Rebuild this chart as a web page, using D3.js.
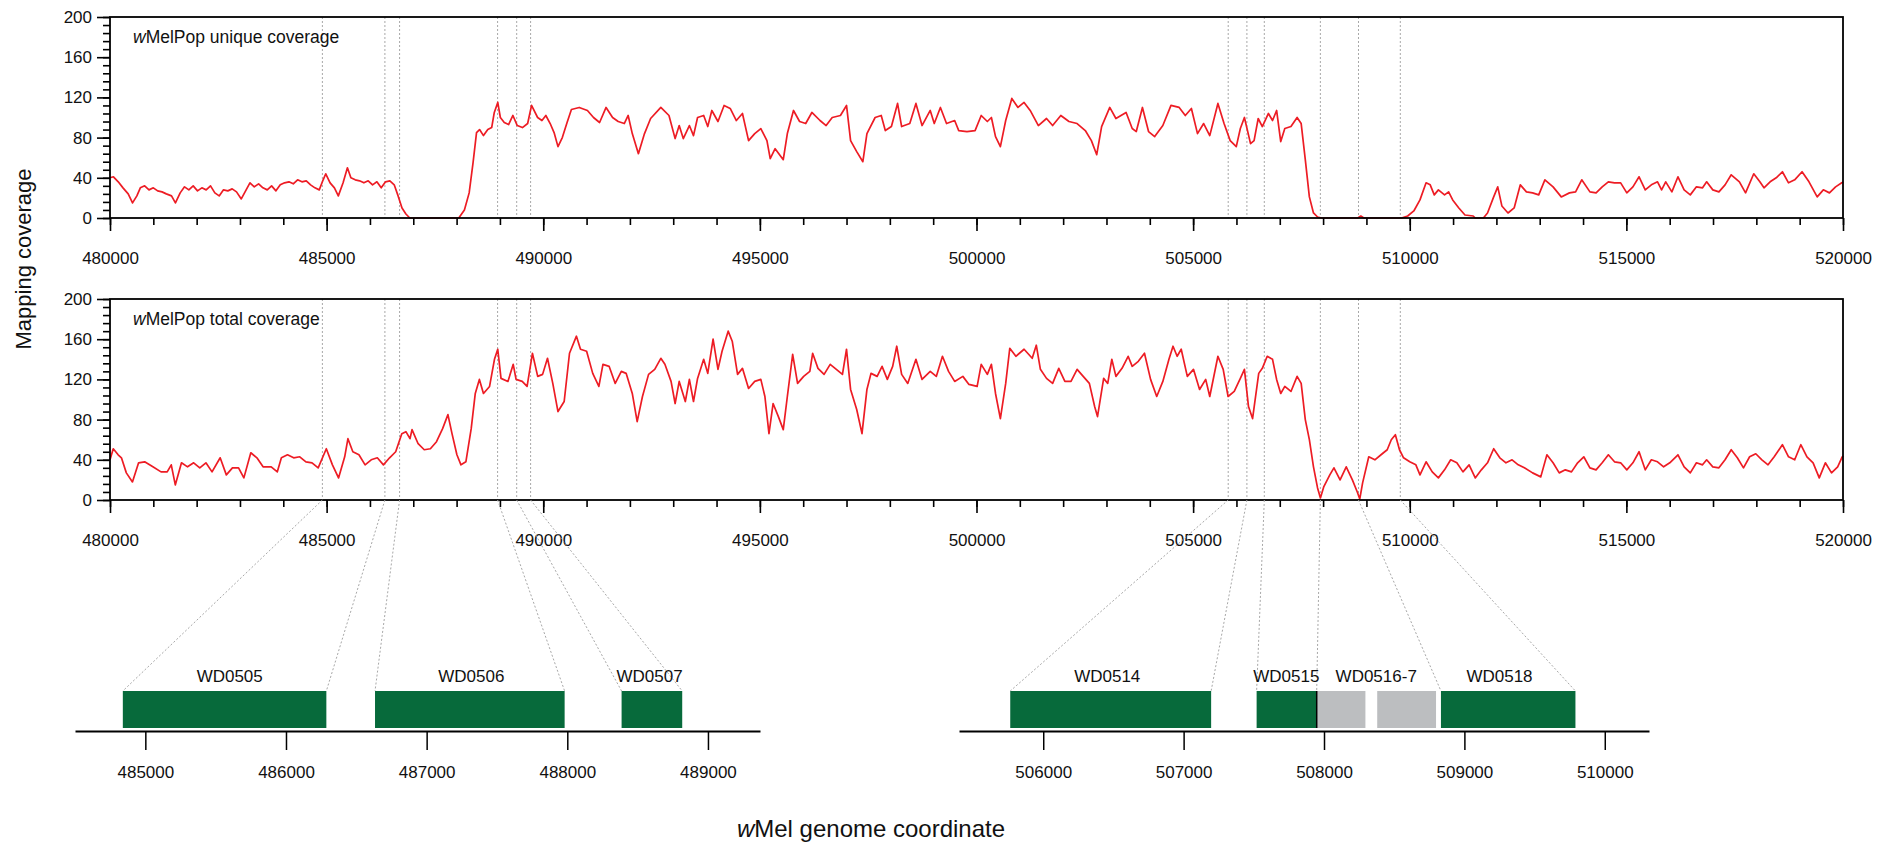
<!DOCTYPE html>
<html>
<head>
<meta charset="utf-8">
<script src="https://cdn.jsdelivr.net/npm/d3@7"></script>
<style>
  body { margin: 0; background: #fff; }
  svg text { font-family: "Liberation Sans", Arial, Helvetica, sans-serif; fill: #111; }
</style>
</head>
<body>
<div id="chart"></div>
<script>
// ----------- data --------------------------------

// wMelPop unique coverage: [genome position, coverage]
const uniqueCoverage = [
  [480000,40],[480080,41],[480190,36],[480300,30],[480420,24],[480520,15],[480620,22],[480700,30],
  [480800,32],[480900,28],[481000,30],[481100,27],[481200,26],[481300,24],[481420,22],[481510,15],
  [481620,25],[481720,31],[481820,28],[481920,32],[482020,27],[482120,30],[482220,28],[482320,32],
  [482420,25],[482520,22],[482620,28],[482720,27],[482820,29],[482920,26],[483030,19],[483130,27],
  [483230,35],[483330,31],[483430,34],[483530,30],[483630,28],[483730,32],[483830,27],[483930,33],
  [484030,35],[484130,36],[484230,34],[484330,38],[484430,36],[484530,37],[484630,33],[484730,30],
  [484830,28],[484920,38],[484980,44],[485080,35],[485180,30],[485270,22],[485380,35],[485480,50],
  [485560,40],[485660,38],[485760,37],[485860,35],[485960,37],[486060,33],[486160,36],[486260,30],
  [486360,36],[486460,37],[486560,33],[486650,22],[486740,10],[486830,4],[486920,0],[488050,0],
  [488180,8],[488290,25],[488380,55],[488460,85],[488530,88],[488620,82],[488720,88],[488810,90],
  [488870,105],[488950,115],[489010,100],[489100,95],[489200,93],[489300,102],[489400,92],[489520,90],
  [489640,94],[489730,112],[489870,100],[489970,97],[490060,102],[490160,94],[490250,85],[490340,71],
  [490440,80],[490550,95],[490650,108],[490830,110],[491020,107],[491160,100],[491300,95],[491450,110],
  [491600,100],[491730,96],[491870,94],[491960,102],[492055,84],[492196,64],[492337,84],[492478,99],
  [492714,110],[492902,102],[493044,79],[493138,92],[493232,79],[493373,92],[493468,82],[493562,100],
  [493703,102],[493797,91],[493891,107],[494033,96],[494174,112],[494315,109],[494457,97],[494598,104],
  [494739,77],[494881,84],[495022,89],[495163,77],[495239,59],[495352,69],[495540,58],[495634,84],
  [495776,107],[495917,96],[496058,94],[496200,105],[496388,97],[496529,92],[496670,100],[496859,102],
  [497000,112],[497094,77],[497235,66],[497377,56],[497471,84],[497660,100],[497801,102],[497895,87],
  [498036,91],[498178,114],[498272,91],[498460,94],[498602,114],[498743,92],[498932,107],[499025,94],
  [499167,110],[499308,94],[499496,97],[499590,87],[499779,86],[499967,87],[500109,102],[500250,96],
  [500344,100],[500439,81],[500551,71],[500674,97],[500815,119],[500957,110],[501098,115],[501239,107],
  [501428,92],[501616,99],[501757,92],[501946,102],[502134,96],[502322,94],[502511,87],[502652,77],
  [502775,63],[502888,91],[503076,110],[503218,99],[503453,105],[503594,89],[503688,86],[503830,110],
  [503971,86],[504113,81],[504301,92],[504489,112],[504678,110],[504819,102],[504960,109],[505101,84],
  [505243,94],[505384,82],[505572,114],[505714,94],[505855,77],[505996,71],[506090,89],[506184,100],
  [506325,74],[506407,77],[506502,99],[506597,91],[506738,104],[506833,97],[506927,107],[507022,76],
  [507116,89],[507258,91],[507400,100],[507494,94],[507589,58],[507683,21],[507778,5],[507872,1],
  [507967,0],[508800,0],[508870,2],[508940,0],[509810,0],[509952,2],[510094,7],[510236,18],
  [510377,35],[510472,33],[510566,23],[510661,28],[510803,23],[510897,26],[510991,18],[511133,10],
  [511275,3],[511464,2],[511511,0],[511700,0],[511795,5],[511937,21],[512031,31],[512126,12],
  [512268,5],[512410,10],[512552,33],[512693,26],[512835,25],[512977,23],[513119,38],[513308,31],
  [513497,21],[513686,25],[513828,26],[513970,38],[514159,26],[514301,25],[514442,31],[514584,36],
  [514726,35],[514868,35],[515010,25],[515151,31],[515293,41],[515435,28],[515577,33],[515719,36],
  [515813,28],[515908,36],[516050,26],[516191,41],[516333,28],[516475,23],[516617,31],[516759,30],
  [516853,36],[516995,28],[517136,26],[517278,33],[517420,43],[517609,36],[517751,25],[517940,44],
  [518081,36],[518176,30],[518318,36],[518459,40],[518601,46],[518743,35],[518885,38],[519055,46],
  [519215,36],[519404,21],[519546,28],[519687,25],[519829,31],[519971,35],[520000,36]
];

// wMelPop total coverage: [genome position, coverage]
const totalCoverage = [
  [480000,40],[480075,51],[480188,45],[480264,42],[480377,27],[480518,18],[480660,37],[480800,38],
  [480990,33],[481178,28],[481320,28],[481414,35],[481507,15],[481650,37],[481790,33],[481931,37],
  [482072,32],[482214,37],[482355,28],[482543,42],[482685,25],[482826,32],[482967,32],[483090,22],
  [483250,47],[483391,42],[483533,33],[483721,33],[483862,28],[483956,42],[484097,45],[484239,42],
  [484380,43],[484522,38],[484663,37],[484805,32],[484993,51],[485134,35],[485275,22],[485417,43],
  [485492,61],[485605,48],[485746,45],[485888,35],[486029,40],[486170,42],[486311,35],[486453,42],
  [486594,48],[486735,66],[486830,68],[486924,61],[486971,70],[487112,56],[487253,50],[487395,51],
  [487536,58],[487677,71],[487800,85],[487894,66],[488007,45],[488101,35],[488214,38],[488337,71],
  [488431,106],[488526,120],[488620,106],[488761,113],[488874,140],[488950,150],[489025,121],[489185,118],
  [489307,135],[489373,120],[489514,118],[489627,113],[489750,146],[489872,123],[489985,125],[490098,141],
  [490220,116],[490340,88],[490483,98],[490606,146],[490766,163],[490860,150],[491001,148],[491142,126],
  [491284,113],[491378,135],[491520,133],[491661,116],[491802,128],[491913,126],[492055,106],[492168,78],
  [492290,103],[492431,125],[492573,130],[492714,141],[492808,135],[492950,118],[493044,96],[493138,118],
  [493279,98],[493373,120],[493468,98],[493562,121],[493703,140],[493797,126],[493920,160],[494033,130],
  [494127,148],[494268,168],[494362,158],[494485,125],[494598,131],[494739,111],[494881,118],[495022,120],
  [495116,103],[495210,66],[495305,96],[495427,83],[495540,70],[495634,103],[495757,145],[495870,116],
  [496011,123],[496153,128],[496218,146],[496341,131],[496482,125],[496623,135],[496765,130],[496906,125],
  [497000,150],[497094,110],[497235,90],[497357,66],[497471,110],[497565,126],[497707,123],[497820,133],
  [497942,120],[498065,133],[498159,153],[498272,125],[498413,116],[498602,140],[498743,120],[498932,128],
  [499072,123],[499214,143],[499355,128],[499496,118],[499685,123],[499826,115],[500015,113],[500109,135],
  [500250,125],[500344,135],[500439,106],[500551,81],[500674,116],[500768,151],[500909,143],[501098,150],
  [501286,141],[501380,154],[501475,130],[501616,121],[501757,116],[501899,131],[502040,118],[502181,118],
  [502322,130],[502463,123],[502605,116],[502727,93],[502793,83],[502935,121],[503029,116],[503123,140],
  [503218,123],[503359,131],[503500,143],[503594,133],[503735,138],[503877,146],[504018,120],[504160,103],
  [504301,118],[504442,140],[504536,153],[504631,143],[504725,150],[504866,123],[505008,130],[505149,110],
  [505290,120],[505384,103],[505572,143],[505694,130],[505807,103],[505949,108],[506090,121],[506184,130],
  [506278,93],[506372,81],[506514,126],[506597,131],[506710,143],[506833,140],[506927,120],[507022,106],
  [507116,113],[507258,108],[507400,123],[507494,116],[507589,80],[507683,60],[507778,33],[507872,12],
  [507938,2],[508014,13],[508155,25],[508250,32],[508392,20],[508534,33],[508676,20],[508789,8],
  [508846,1],[508912,17],[509054,43],[509195,40],[509337,45],[509480,50],[509574,60],[509668,65],
  [509763,50],[509857,42],[510000,38],[510141,35],[510236,25],[510377,38],[510519,28],[510661,22],
  [510803,30],[510945,40],[511087,37],[511228,28],[511370,35],[511512,22],[511653,30],[511795,37],
  [511937,51],[512079,42],[512221,37],[512362,40],[512504,35],[512646,32],[512835,27],[513024,23],
  [513166,45],[513308,37],[513450,27],[513591,30],[513733,28],[513875,37],[514017,43],[514158,32],
  [514300,30],[514442,37],[514584,45],[514726,38],[514868,37],[515010,30],[515151,37],[515293,48],
  [515435,30],[515577,40],[515719,38],[515860,33],[516002,37],[516191,45],[516333,33],[516475,27],
  [516617,37],[516758,35],[516853,40],[516995,33],[517136,32],[517278,40],[517420,50],[517561,42],
  [517703,32],[517845,43],[517987,46],[518128,40],[518270,35],[518412,43],[518601,55],[518743,43],
  [518885,40],[519026,55],[519168,43],[519310,37],[519452,22],[519593,37],[519735,27],[519877,33],
  [519971,42],[520000,44]
];

const coverageTicks = [480000, 485000, 490000, 495000, 500000, 505000, 510000, 515000, 520000];
const coverageYTicks = [0, 40, 80, 120, 160, 200];
const panelLabels = ["unique coverage", "total coverage"];

// genes shown in the two zoomed tracks: [start, end, kind]
const geneBoxes = [
  [484840, 486287, "gene"], [486633, 487981, "gene"], [488386, 488817, "gene"],
  [505765, 507196, "gene"], [507520, 507948, "gene"], [507948, 508295, "other"],
  [508379, 508798, "other"], [508833, 509791, "gene"]
];
const geneNames = ["WD0505", "WD0506", "WD0507", "WD0514", "WD0515", "WD0516-7", "WD0518"];
const geneNamePos = [485600, 487318, 488585, 506456, 507732, 508372, 509250];
const geneBreaks = [507948];
const leftGeneTicks = [485000, 486000, 487000, 488000, 489000];
const rightGeneTicks = [506000, 507000, 508000, 509000, 510000];

// dotted connectors: coverage-axis position -> gene-track position
const connectorCov  = [484902, 486345, 486684, 488946, 489387, 489708, 505810, 506241, 506643, 507937, 508817, 509782];
const connectorGene = [484840, 486287, 486633, 487981, 488386, 488817, 505765, 507196, 507520, 507948, 508833, 509791];

// ----------- layout ------------
const width = 1892, height = 843;
const panelH = 201;
const panelTops = [17, 299];
const geneTop = 691, geneH = 37, geneAxisY = 731;
const red = "#ed1c24", green = "#076a3b", grey = "#bcbec0", dot = "#a8a8a8";

const svg = d3.select("#chart").append("svg")
  .attr("width", width)
  .attr("height", height);

const x = d3.scaleLinear().domain([480000, 520000]).range([110, 1843]);

const geneX = [
  d3.scaleLinear().domain([484500, 489370]).range([75, 760]),
  d3.scaleLinear().domain([505400, 510315]).range([959, 1649])
];
const sideOf = v => (v < 495000 ? 0 : 1);

const line = d3.line()
  .x(d => x(d[0]));

[uniqueCoverage, totalCoverage].forEach((data, i) => {
  const top = panelTops[i];
  const y = d3.scaleLinear().domain([0, 200]).range([top + panelH, top]);
  const g = svg.append("g");

  // dotted guides
  g.selectAll("line.guide")
    .data(connectorCov)
    .join("line")
    .attr("x1", d => x(d)).attr("x2", d => x(d))
    .attr("y1", top).attr("y2", top + panelH)
    .attr("stroke", dot).attr("stroke-width", 1).attr("stroke-dasharray", "2,2");

  g.append("path")
    .datum(data)
    .attr("d", line.y(d => y(d[1])))
    .attr("fill", "none")
    .attr("stroke", red)
    .attr("stroke-width", 1.7)
    .attr("stroke-linejoin", "round");

  // minor ticks
  g.append("g")
    .attr("transform", `translate(110,0)`)
    .call(d3.axisLeft(y).tickValues(d3.range(0, 201, 8)).tickSize(7).tickFormat(""))
    .call(a => a.select(".domain").remove());
  g.append("g")
    .attr("transform", `translate(0,${top + panelH})`)
    .call(d3.axisBottom(x).tickValues(d3.range(480000, 520001, 1000)).tickSize(7).tickFormat(""))
    .call(a => a.select(".domain").remove());

  const ya = g.append("g")
    .attr("transform", `translate(110,0)`)
    .call(d3.axisLeft(y).tickValues(coverageYTicks).tickSize(13).tickPadding(5));
  ya.select(".domain").remove();
  ya.selectAll("text").attr("font-size", 17).attr("font-family", null);

  const xa = g.append("g")
    .attr("transform", `translate(0,${top + panelH})`)
    .call(d3.axisBottom(x).tickValues(coverageTicks).tickSize(13).tickPadding(21).tickFormat(d3.format("d")));
  xa.select(".domain").remove();
  xa.selectAll("text").attr("font-size", 17).attr("font-family", null);

  g.selectAll(".tick line").attr("stroke", "#000").attr("stroke-width", 1.6);

  g.append("rect")
    .attr("x", 110).attr("y", top)
    .attr("width", 1733).attr("height", panelH)
    .attr("fill", "none").attr("stroke", "#000").attr("stroke-width", 1.8);

  const lab = g.append("text")
    .attr("x", 133).attr("y", top + 26)
    .attr("font-size", 17.5);
  lab.append("tspan").attr("font-style", "italic").text("w");
  lab.append("tspan").text("MelPop " + panelLabels[i]);
});

// diagonal connectors down to the gene tracks
svg.selectAll("line.conn")
  .data(connectorCov)
  .join("line")
  .attr("x1", d => x(d))
  .attr("y1", panelTops[1] + panelH)
  .attr("x2", (d, i) => geneX[sideOf(connectorGene[i])](connectorGene[i]))
  .attr("y2", geneTop)
  .attr("stroke", dot).attr("stroke-width", 1).attr("stroke-dasharray", "2,2");

// gene tracks
[leftGeneTicks, rightGeneTicks].forEach((ticks, s) => {
  const gx = geneX[s];
  const a = svg.append("g")
    .attr("transform", `translate(0,${geneAxisY})`)
    .call(d3.axisBottom(gx).tickValues(ticks).tickSize(19).tickPadding(16).tickSizeOuter(0).tickFormat(d3.format("d")));
  a.select(".domain").attr("stroke-width", 2);
  a.selectAll(".tick line").attr("stroke-width", 1.5);
  a.selectAll("text").attr("font-size", 17).attr("font-family", null);
});

svg.selectAll("rect.gene")
  .data(geneBoxes)
  .join("rect")
  .attr("x", d => geneX[sideOf(d[0])](d[0]))
  .attr("width", d => geneX[sideOf(d[0])](d[1]) - geneX[sideOf(d[0])](d[0]))
  .attr("y", geneTop)
  .attr("height", geneH)
  .attr("fill", d => (d[2] === "gene" ? green : grey));

svg.selectAll("line.break")
  .data(geneBreaks)
  .join("line")
  .attr("x1", d => geneX[sideOf(d)](d)).attr("x2", d => geneX[sideOf(d)](d))
  .attr("y1", geneTop).attr("y2", geneTop + geneH)
  .attr("stroke", "#000").attr("stroke-width", 1.5);

svg.selectAll("text.gname")
  .data(geneNames)
  .join("text")
  .attr("x", (d, i) => geneX[sideOf(geneNamePos[i])](geneNamePos[i]))
  .attr("y", geneTop - 9)
  .attr("text-anchor", "middle")
  .attr("font-size", 17)
  .text(d => d);

// axis titles
svg.append("text")
  .attr("transform", "translate(31,259) rotate(-90)")
  .attr("text-anchor", "middle")
  .attr("font-size", 22)
  .text("Mapping coverage");

const xt = svg.append("text")
  .attr("x", 871).attr("y", 837)
  .attr("text-anchor", "middle")
  .attr("font-size", 24);
xt.append("tspan").attr("font-style", "italic").text("w");
xt.append("tspan").text("Mel genome coordinate");
</script>
</body>
</html>
